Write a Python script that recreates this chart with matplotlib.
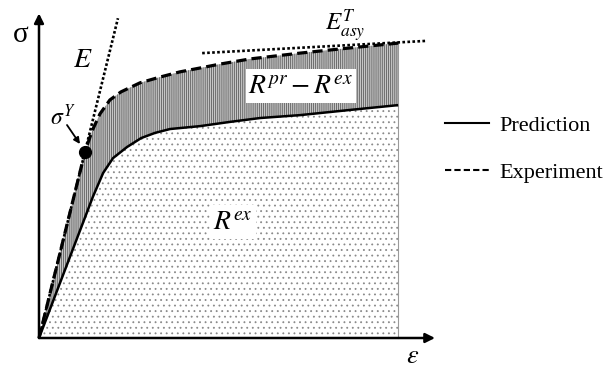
import numpy as np
import matplotlib
matplotlib.use("Agg")
import matplotlib.pyplot as plt
from matplotlib.lines import Line2D

plt.rcParams["mathtext.fontset"] = "stix"
plt.rcParams["hatch.linewidth"] = 0.6

# Normalised strain / stress of the two curves
strain_exp = [0.000, 0.116, 0.134, 0.154, 0.179, 0.207, 0.255, 0.306, 0.356,
              0.407, 0.457, 0.533, 0.659, 0.785, 0.907]
stress_exp = [0.000, 0.576, 0.641, 0.694, 0.737, 0.762, 0.790, 0.808, 0.824,
              0.836, 0.848, 0.864, 0.882, 0.898, 0.913]
strain_pred = [0.000, 0.136, 0.162, 0.187, 0.222, 0.258, 0.293, 0.331, 0.407,
               0.482, 0.558, 0.659, 0.785, 0.907]
stress_pred = [0.000, 0.437, 0.511, 0.557, 0.591, 0.619, 0.635, 0.647, 0.656,
               0.669, 0.681, 0.690, 0.706, 0.721]

# Yield point (first kink of the experimental curve) and elastic slope
yield_strain, yield_stress = strain_exp[1], stress_exp[1]
elastic_top_stress = 0.99

# Asymptotic tangent line
asy_strain = [0.412, 0.980]
asy_stress = [0.882, 0.920]

legend_labels = ["Prediction", "Experiment"]

sx = np.array(strain_exp)
sy = np.array(stress_exp)
px = np.array(strain_pred)
py = np.array(stress_pred)

fig = plt.figure(figsize=(6.06, 3.70), dpi=100)
ax = fig.add_axes([0, 0, 1, 1])
ax.set_xlim(-39 / 396, 567 / 396)
ax.set_ylim(-32 / 323, 338 / 323)
ax.axis("off")

# R^ex: area under the predicted curve (dotted fill)
ax.fill(np.concatenate([px, [px[-1], 0.0]]),
        np.concatenate([py, [0.0, 0.0]]),
        facecolor="white", edgecolor="#8a8a8a", hatch="...", linewidth=0,
        zorder=1)
# R^pr - R^ex: area between the two curves (dense vertical hatch)
ax.fill(np.concatenate([sx, px[::-1]]),
        np.concatenate([sy, py[::-1]]),
        facecolor="#c6c6c6", edgecolor="#5e5e5e", hatch="||||||||",
        linewidth=0, zorder=1)
ax.plot([px[-1], px[-1]], [0, sy[-1]], color="#9a9a9a", lw=0.8, zorder=1.5)

# Curves
ax.plot(px, py, color="black", lw=1.8, solid_capstyle="butt", zorder=3)
ax.plot(sx, sy, color="black", lw=2.3, ls=(0, (3.2, 1.6)), zorder=3)

# Elastic line through the yield point
E_mod = yield_stress / yield_strain
ax.plot([0, elastic_top_stress / E_mod], [0, elastic_top_stress],
        color="black", lw=1.9, ls=(0, (1.0, 0.8)), zorder=2)
# Asymptotic tangent
ax.plot(asy_strain, asy_stress, color="black", lw=1.9, ls=(0, (1.0, 0.9)),
        zorder=2)

# Yield point marker
ax.plot([yield_strain], [yield_stress], "o", color="black", ms=8.5, zorder=4)

# Coordinate axes with arrow heads
arrow = dict(arrowstyle="-|>", lw=1.8, color="black", mutation_scale=14,
             shrinkA=0, shrinkB=0)
ax.annotate("", xy=(0, 1.005), xytext=(0, 0), arrowprops=arrow, zorder=5)
ax.annotate("", xy=(1.0, 0), xytext=(0, 0), arrowprops=arrow, zorder=5)

serif = ["Liberation Serif", "DejaVu Serif"]
ax.text(-0.045, 0.938, "σ", family=serif, fontsize=21, ha="center",
        va="center")
ax.text(0.944, -0.057, r"$\varepsilon$", fontsize=19, ha="center",
        va="center")
ax.text(0.111, 0.864, r"$E$", fontsize=20, ha="center", va="center")
ax.text(0.0606, 0.684, r"$\sigma^{Y}$", fontsize=17, ha="center",
        va="center")
ax.annotate("", xy=(0.1035, 0.6006), xytext=(0.0707, 0.6594),
            arrowprops=dict(arrowstyle="-|>", lw=1.3, color="black",
                            mutation_scale=9, shrinkA=0, shrinkB=0))
ax.text(0.7727, 0.966, r"$E^{T}_{asy}$", fontsize=18, ha="center",
        va="center")
ax.text(0.6616, 0.780, r"$R^{pr}-R^{ex}$", fontsize=20, ha="center",
        va="center", zorder=4,
        bbox=dict(facecolor="white", edgecolor="none", pad=2))
ax.text(0.4899, 0.359, r"$R^{ex}$", fontsize=20, ha="center", va="center",
        zorder=4, bbox=dict(facecolor="white", edgecolor="none", pad=2))

handles = [Line2D([], [], color="black", lw=1.5),
           Line2D([], [], color="black", lw=1.5, ls=(0, (3.0, 1.5)))]
ax.legend(handles, legend_labels, loc="upper left",
          bbox_to_anchor=(445 / 606, 1 - 115 / 370),
          bbox_transform=fig.transFigure, frameon=False, borderpad=0,
          borderaxespad=0, handlelength=2.0, handletextpad=0.45,
          labelspacing=1.2, prop=dict(family=serif, size=16))

fig.savefig("out.png", dpi=100)
